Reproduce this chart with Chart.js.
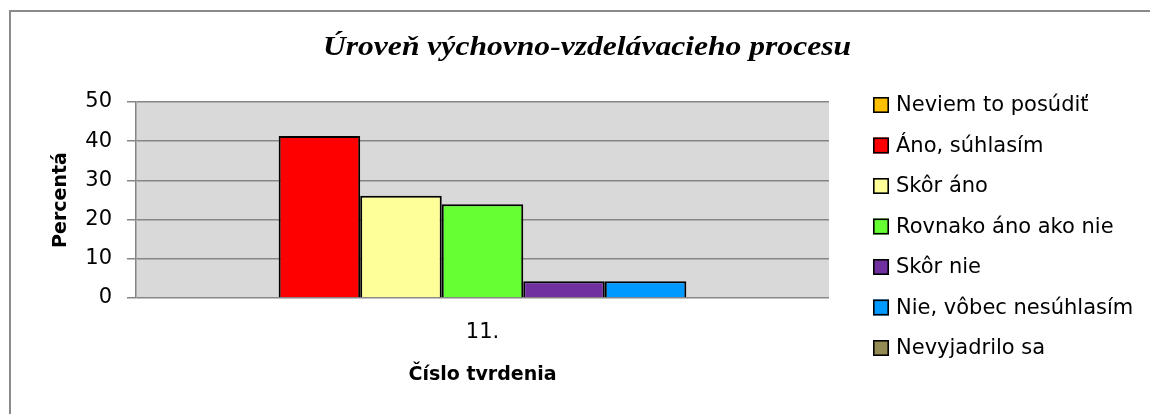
<!DOCTYPE html>
<html>
<head>
<meta charset="utf-8">
<script src="https://cdn.jsdelivr.net/npm/chart.js@4/dist/chart.umd.min.js"></script>
<style>
  html, body { margin: 0; padding: 0; background: #ffffff; overflow: hidden; }
  #c { display: block; }
</style>
</head>
<body>
<canvas id="c" width="1150" height="414"></canvas>
<script>
// ---- data ----
const chartTitle = 'Úroveň výchovno-vzdelávacieho procesu';
const xAxisTitle = 'Číslo tvrdenia';
const yAxisTitle = 'Percentá';
const categories = ['11.'];
const seriesNames = [
  'Neviem to posúdiť',
  'Áno, súhlasím',
  'Skôr áno',
  'Rovnako áno ako nie',
  'Skôr nie',
  'Nie, vôbec nesúhlasím',
  'Nevyjadrilo sa'
];
const seriesValues = [0, 41.3, 26.1, 23.9, 4.3, 4.3, 0];
const yTicks = [0, 10, 20, 30, 40, 50];
const seriesColors = ['#FFC000', '#FF0000', '#FFFF99', '#66FF33', '#7030A0', '#0099FF', '#948A54'];

const FONT = 'DejaVu Sans';

const datasets = seriesNames.map((name, i) => ({
  label: name,
  data: [seriesValues[i]],
  backgroundColor: seriesColors[i],
  borderColor: '#000000',
  borderWidth: (ctx) => (ctx.raw === 0 ? 0 : 2),
  categoryPercentage: 7 / 8.5,
  barPercentage: 1.0
}));

const frameAndBg = {
  id: 'frameAndBg',
  beforeDraw(chart) {
    const { ctx, chartArea: a } = chart;
    ctx.save();
    ctx.fillStyle = '#D9D9D9';
    ctx.fillRect(a.left, a.top, a.right - a.left, a.bottom - a.top);
    // outer chart frame (only its left and top edges are inside the picture)
    ctx.strokeStyle = '#8a8a8a';
    ctx.lineWidth = 2;
    ctx.beginPath();
    ctx.moveTo(10, chart.height + 5);
    ctx.lineTo(10, 11);
    ctx.lineTo(chart.width + 5, 11);
    ctx.stroke();
    ctx.restore();
  }
};

const headTitle = {
  id: 'headTitle',
  afterDraw(chart) {
    const { ctx } = chart;
    ctx.save();
    ctx.font = 'italic bold 27px "Liberation Serif"';
    ctx.fillStyle = '#000000';
    ctx.textBaseline = 'alphabetic';
    ctx.textAlign = 'center';
    ctx.translate(587, 55);
    ctx.scale(1.17, 1);
    ctx.fillText(chartTitle, 0, 0);
    ctx.restore();
  }
};

const sideLegend = {
  id: 'sideLegend',
  afterDraw(chart) {
    const { ctx, chartArea: a } = chart;
    const boxX = a.right + 44;
    const firstY = a.top + 3;
    const step = 40.5;
    ctx.save();
    ctx.font = '21px "' + FONT + '"';
    ctx.textBaseline = 'middle';
    ctx.textAlign = 'left';
    chart.data.datasets.forEach((ds, i) => {
      const cy = firstY + i * step;
      ctx.fillStyle = ds.backgroundColor;
      ctx.fillRect(boxX, cy - 8, 16, 16);
      ctx.lineWidth = 1.6;
      ctx.strokeStyle = '#000000';
      ctx.strokeRect(boxX + 0.8, cy - 7.2, 14.4, 14.4);
      ctx.fillStyle = '#000000';
      ctx.fillText(ds.label, boxX + 23, cy + 1);
    });
    ctx.restore();
  }
};

new Chart(document.getElementById('c'), {
  type: 'bar',
  data: { labels: categories, datasets },
  plugins: [frameAndBg, headTitle, sideLegend],
  options: {
    responsive: false,
    animation: false,
    layout: { padding: { left: 10, right: 321, top: 102, bottom: 16 } },
    plugins: {
      legend: { display: false },
      tooltip: { enabled: false },
      title: { display: false }
    },
    scales: {
      x: {
        grid: { display: false, drawTicks: false },
        border: { display: false },
        ticks: { color: '#000000', padding: 22, font: { family: FONT, size: 21 } },
        title: {
          display: true, text: xAxisTitle, color: '#000000',
          font: { family: FONT, size: 19, weight: 'bold', lineHeight: 1.2 },
          padding: { top: 0, bottom: 11.6 }
        },
        afterFit(scale) { scale.height = 100; }
      },
      y: {
        min: 0, max: 50,
        afterBuildTicks(scale) { scale.ticks = yTicks.map(v => ({ value: v })); },
        grid: { color: '#868686', lineWidth: 1.5, tickLength: 9, tickColor: '#868686' },
        border: { display: true, color: '#868686', width: 1.5 },
        ticks: { color: '#000000', padding: 15, font: { family: FONT, size: 21 } },
        title: {
          display: true, text: yAxisTitle, color: '#000000',
          font: { family: FONT, size: 19, weight: 'bold', lineHeight: 1.2 },
          padding: { top: 40, bottom: 0 }
        },
        afterFit(scale) { scale.width = 126; }
      }
    }
  }
});
</script>
</body>
</html>
